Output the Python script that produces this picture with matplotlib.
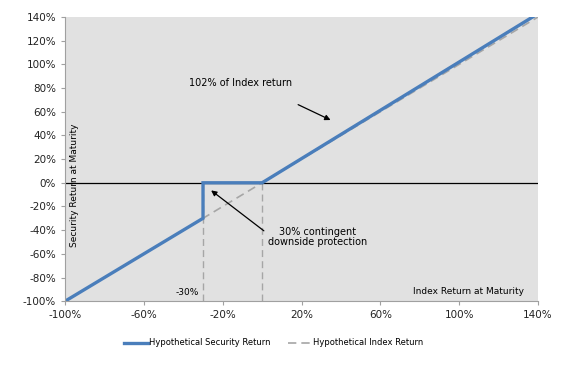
import matplotlib.pyplot as plt

index_x = [-100, 140]
index_y = [-100, 140]
security_x = [-100, -30, -30, 0, 140]
security_y = [-100, -30, 0, 0, 142.8]
barrier_x = [-30, 0]
xticks = [-100, -60, -20, 20, 60, 100, 140]
yticks = list(range(-100, 141, 20))

plt.rcParams['font.family'] = 'DejaVu Sans'
plt.rcParams['font.size'] = 7.5

fig = plt.figure(figsize=(5.76, 3.70), dpi=100)
ax = fig.add_axes([0.113, 0.186, 0.821, 0.768])
ax.set_facecolor('#e1e1e1')

for bx in barrier_x:
    ax.plot([bx, bx], [-100, 0], color='#a6a6a6', lw=1, ls=(0, (5, 3)))
ax.axhline(0, color='black', lw=0.9)
ax.plot(index_x, index_y, color='#a6a6a6', lw=1.2, ls=(0, (5, 3)),
        label='Hypothetical Index Return')
ax.plot(security_x, security_y, color='#4a7ebb', lw=2.4,
        label='Hypothetical Security Return', solid_joinstyle='miter')

ax.set_xlim(-100, 140)
ax.set_ylim(-100, 140)
ax.set_xticks(xticks)
ax.set_xticklabels([f'{t}%' for t in xticks])
ax.set_yticks(yticks)
ax.set_yticklabels([f'{t}%' for t in yticks])
for s in ['top', 'right']:
    ax.spines[s].set_visible(False)
for s in ['left', 'bottom']:
    ax.spines[s].set_color('#a0a0a0')
ax.tick_params(length=3, color='#a0a0a0', labelcolor='#222222')

ax.text(-95, -2, 'Security Return at Maturity', rotation=90, ha='center', va='center',
        fontsize=6.5)
ax.text(133, -91.5, 'Index Return at Maturity', ha='right', va='center', fontsize=6.5)
ax.text(-32, -93, '-30%', ha='right', va='center', fontsize=6.5)
ax.text(-11, 84, '102% of Index return', ha='center', va='center', fontsize=7)
ax.annotate('', xy=(36, 52), xytext=(17, 67),
            arrowprops=dict(arrowstyle='-|>', color='black', lw=0.9, mutation_scale=8))
ax.text(28, -46, '30% contingent\ndownside protection', ha='center', va='center',
        linespacing=1.0, fontsize=7)
ax.annotate('', xy=(-27, -5), xytext=(2, -42),
            arrowprops=dict(arrowstyle='-|>', color='black', lw=0.9, mutation_scale=8))

h, l = ax.get_legend_handles_labels()
fig.legend(h[::-1], l[::-1], loc='center', bbox_to_anchor=(0.475, 0.073), ncol=2,
           frameon=False, handlelength=2.8, columnspacing=2.2, handletextpad=0.1,
           fontsize=6)

fig.savefig('out.png', dpi=100)
